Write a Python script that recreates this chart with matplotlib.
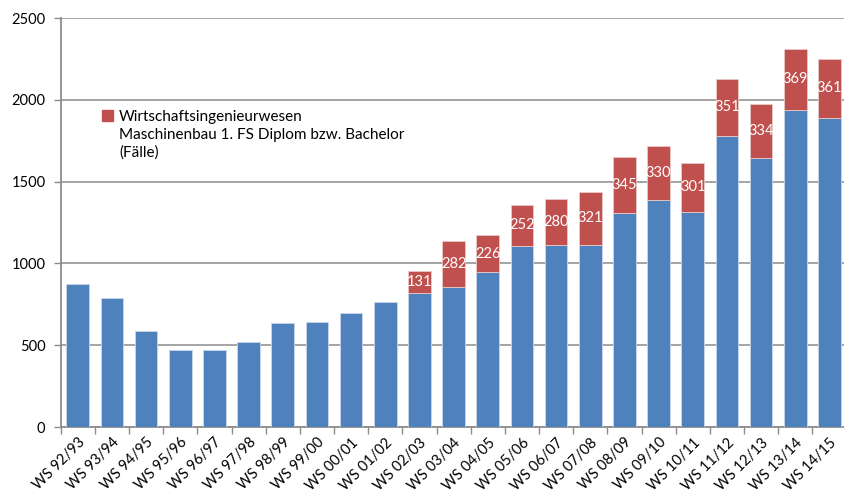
import matplotlib.pyplot as plt
from matplotlib.patches import Patch

plt.rcParams['font.family'] = ['Lato', 'DejaVu Sans']

# Data
semester = ["WS 92/93", "WS 93/94", "WS 94/95", "WS 95/96", "WS 96/97", "WS 97/98",
            "WS 98/99", "WS 99/00", "WS 00/01", "WS 01/02", "WS 02/03", "WS 03/04",
            "WS 04/05", "WS 05/06", "WS 06/07", "WS 07/08", "WS 08/09", "WS 09/10",
            "WS 10/11", "WS 11/12", "WS 12/13", "WS 13/14", "WS 14/15"]
maschinenbau = [877, 790, 590, 471, 472, 522, 638, 644, 700, 766, 822, 854,
                946, 1108, 1112, 1115, 1308, 1390, 1315, 1778, 1643, 1941, 1889]
wing = [0, 0, 0, 0, 0, 0, 0, 0, 0, 0, 131, 282,
        226, 252, 280, 321, 345, 330, 301, 351, 334, 369, 361]

blue = "#4F81BD"
red = "#C0504D"
grey = "#8c8c8c"

fig = plt.figure(figsize=(8.45, 4.92), dpi=100)
ax = fig.add_axes([0.0718, 0.132, 0.930, 0.8313])

x = list(range(len(semester)))
ax.bar(x, maschinenbau, width=0.66, color=blue, edgecolor="#c9d7ea", linewidth=0.6, zorder=3)

# only the semesters with Wirtschaftsingenieurwesen
wx = [i for i in x if wing[i] > 0]
wv = [wing[i] for i in wx]
wb = [maschinenbau[i] for i in wx]
ax.bar(wx, wv, width=0.66, bottom=wb, color=red,
       edgecolor="#ecc9c8", linewidth=0.6, zorder=3)

for i, b, w in zip(wx, wb, wv):
    ax.text(i, b + w / 2, str(w), ha="center", va="center", color="white",
            fontsize=10.5, zorder=4)

ax.set_xlim(-0.5, len(semester) - 0.5)
ax.set_ylim(0, 2500)
ax.set_yticks(range(0, 2501, 500))
ax.yaxis.grid(True, color=grey, linewidth=1.1, zorder=0)

# ticks between categories
ax.set_xticks([i - 0.5 for i in range(len(semester) + 1)], minor=False)
ax.set_xticklabels([])
ax.set_xticks(x, minor=True)
ax.set_xticklabels(semester, minor=True, rotation=45, ha="right",
                   rotation_mode="anchor", fontsize=10.5)
ax.tick_params(axis="x", which="minor", length=0, pad=6)
ax.tick_params(axis="x", which="major", length=5, color=grey, width=1)
ax.tick_params(axis="y", length=5, color=grey, width=1, labelsize=10.5, pad=6)

for s in ["top", "right"]:
    ax.spines[s].set_visible(False)
for s in ["left", "bottom"]:
    ax.spines[s].set_color(grey)
    ax.spines[s].set_linewidth(1.3)

handles = [Patch(color=red), Patch(color="none")]
labels = ["Wirtschaftsingenieurwesen", "Maschinenbau 1. FS Diplom bzw. Bachelor\n(Fälle)"]
leg = ax.legend(handles, labels, loc="upper left", bbox_to_anchor=(0.045, 0.79),
                frameon=False, fontsize=11, handlelength=0.7, handleheight=0.7,
                handletextpad=0.4, labelspacing=0.25, borderaxespad=0)
for t in leg.get_texts():
    t.set_linespacing(1.35)

fig.savefig("out.png", dpi=100)
